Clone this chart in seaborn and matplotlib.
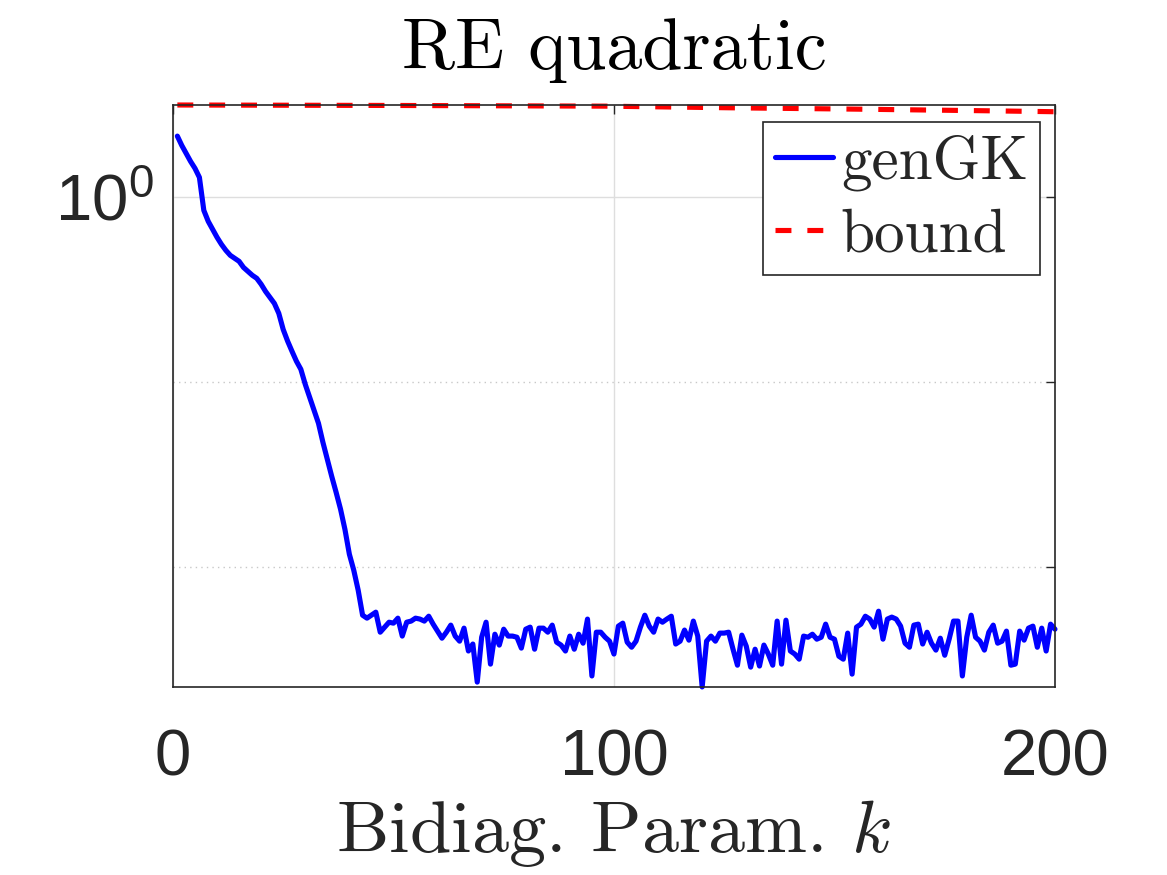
import matplotlib
matplotlib.use('Agg')
import matplotlib.pyplot as plt
import matplotlib.ticker as mticker
import numpy as np
import pandas as pd
import seaborn as sns

# bidiagonalization parameter k = 1..200
k_vals = list(range(1, 201))

# relative error of genGK
gengk_err = [
    2.145, 1.910, 1.729, 1.565, 1.435, 1.283, 0.851, 0.742, 0.671, 0.608,
    0.557, 0.517, 0.486, 0.468, 0.451, 0.418, 0.398, 0.379, 0.365, 0.339,
    0.310, 0.288, 0.267, 0.236, 0.193, 0.167, 0.147, 0.130, 0.1176, 0.0975,
    0.0830, 0.0706, 0.0600, 0.0474, 0.0384, 0.0310, 0.0254, 0.0206, 0.0160, 0.01176,
    0.00963, 0.00751, 0.00550, 0.00530, 0.00550, 0.00571, 0.00445, 0.00474, 0.00504, 0.00498,
    0.00530, 0.00424, 0.00504, 0.00511, 0.00530, 0.00524, 0.00511, 0.00543, 0.00492, 0.00451,
    0.00413, 0.00445, 0.00486, 0.00424, 0.00398, 0.00468, 0.00352, 0.00384, 0.00239, 0.00418,
    0.00504, 0.00299, 0.00434, 0.00379, 0.00462, 0.00424, 0.00424, 0.00418, 0.00365, 0.00462,
    0.00474, 0.00360, 0.00468, 0.00468, 0.00445, 0.00486, 0.00393, 0.00379, 0.00352, 0.00424,
    0.00360, 0.00434, 0.00388, 0.00524, 0.00258, 0.00445, 0.00445, 0.00418, 0.00398, 0.00339,
    0.00480, 0.00498, 0.00393, 0.00369, 0.00398, 0.00474, 0.00550, 0.00480, 0.00445, 0.00524,
    0.00504, 0.00524, 0.00543, 0.00384, 0.00398, 0.00457, 0.00403, 0.00511, 0.00424, 0.00225,
    0.00398, 0.00424, 0.00398, 0.00440, 0.00440, 0.00445, 0.00360, 0.00295, 0.00429, 0.00374,
    0.00288, 0.00360, 0.00292, 0.00379, 0.00339, 0.00295, 0.00511, 0.00299, 0.00517, 0.00352,
    0.00339, 0.00318, 0.00424, 0.00418, 0.00434, 0.00408, 0.00418, 0.00492, 0.00418, 0.00408,
    0.00330, 0.00318, 0.00440, 0.00264, 0.00474, 0.00492, 0.00543, 0.00524, 0.00474, 0.00578,
    0.00408, 0.00524, 0.00537, 0.00524, 0.00480, 0.00388, 0.00369, 0.00486, 0.00492, 0.00384,
    0.00445, 0.00388, 0.00356, 0.00413, 0.00334, 0.00408, 0.00511, 0.00511, 0.00258, 0.00418,
    0.00550, 0.00418, 0.00398, 0.00356, 0.00445, 0.00486, 0.00388, 0.00398, 0.00451, 0.00295,
    0.00299, 0.00451, 0.00403, 0.00468, 0.00480, 0.00369, 0.00468, 0.00352, 0.00492, 0.00462,
]

# bound curve (read at a few k)
bound_k = [1, 50, 98, 126, 155, 184, 200]
bound_err = [3.16, 3.142, 3.115, 3.053, 3.001, 2.942, 2.906]

sns.set_theme(style='white')
plt.rcParams['font.family'] = ['Liberation Sans', 'DejaVu Sans']
plt.rcParams['mathtext.fontset'] = 'cm'

dark = '#262626'

fig = plt.figure(figsize=(11.67, 8.75), dpi=100)
ax = fig.add_axes([0.1482, 0.2149, 0.7558, 0.6651])

df_gk = pd.DataFrame({'k': k_vals, 'err': gengk_err})
df_bd = pd.DataFrame({'k': bound_k, 'err': bound_err})

sns.lineplot(data=df_gk, x='k', y='err', ax=ax, color='#0000ff', label='genGK')
sns.lineplot(data=df_bd, x='k', y='err', ax=ax, color='#ff0000', label='bound')
gk_line, bd_line = ax.lines[0], ax.lines[1]
gk_line.set_linewidth(3.7)
bd_line.set_linewidth(3.7)
bd_line.set_dashes((3.1, 3.1))
gk_line.set_clip_on(False)
bd_line.set_clip_on(False)

ax.set_yscale('log')
ax.set_xlim(0, 200)
ax.set_ylim(min(gengk_err), max(bound_err))

ax.xaxis.set_major_locator(mticker.FixedLocator([0, 100, 200]))
ax.yaxis.set_major_locator(mticker.FixedLocator([1.0]))
ax.yaxis.set_minor_locator(mticker.FixedLocator([0.1, 0.01]))
ax.yaxis.set_major_formatter(mticker.FixedFormatter([r'$\mathregular{10^{0}}$']))
ax.yaxis.set_minor_formatter(mticker.NullFormatter())
ax.xaxis.set_minor_locator(mticker.NullLocator())

ax.grid(True, which='major', color='#dedede', lw=1, ls='-')
ax.grid(True, which='minor', axis='y', color='#c8c8c8', lw=1, ls=(0, (1, 3)))
ax.set_axisbelow(True)

for sp in ax.spines.values():
    sp.set_visible(True)
    sp.set_color(dark)
    sp.set_linewidth(1.2)

ax.tick_params(which='both', direction='in', top=True, right=True, length=6.5, width=1,
               color=dark, labelcolor=dark, labelsize=47)
ax.tick_params(axis='x', pad=30)
ax.tick_params(axis='y', pad=14)

ax.set_title('RE quadratic', fontfamily='cmr10', fontsize=52, color='black', pad=26)
ax.set_xlabel(r'Bidiag. Param. $k$', fontfamily='cmr10', fontsize=53.5, color=dark, labelpad=7)
ax.set_ylabel('')

leg = ax.legend(loc='upper right', bbox_to_anchor=(0.983, 0.971), prop={'family': 'cmr10', 'size': 44},
                frameon=True, fancybox=False, framealpha=1, edgecolor=dark,
                handlelength=0.95, handletextpad=0.12, borderpad=0.2, labelspacing=0.28,
                borderaxespad=0)
leg.get_frame().set_linewidth(1.2)

fig.savefig('out.png', dpi=100)
